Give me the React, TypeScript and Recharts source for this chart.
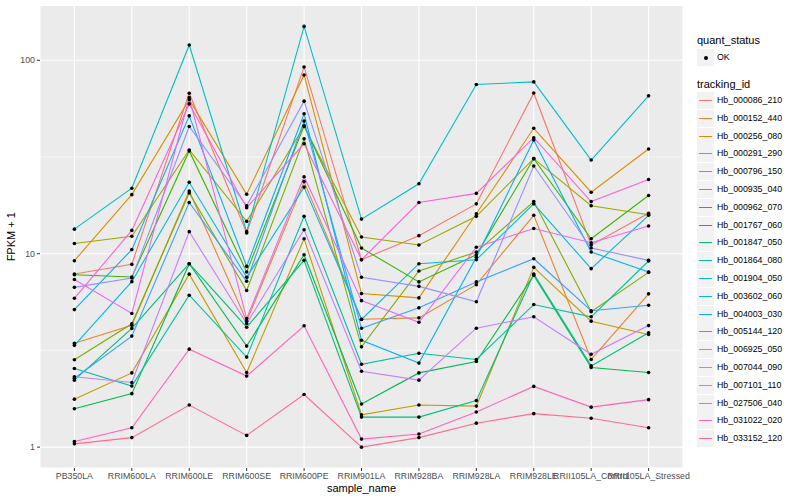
import { LineChart, Line, XAxis, YAxis, CartesianGrid } from "recharts";

const samples = [
  "PB350LA",
  "RRIM600LA",
  "RRIM600LE",
  "RRIM600SE",
  "RRIM600PE",
  "RRIM901LA",
  "RRIM928BA",
  "RRIM928LA",
  "RRIM928LE",
  "RRII105LA_Control",
  "RRII105LA_Stressed",
];

const trackingIds = [
  "Hb_000086_210",
  "Hb_000152_440",
  "Hb_000256_080",
  "Hb_000291_290",
  "Hb_000796_150",
  "Hb_000935_040",
  "Hb_000962_070",
  "Hb_001767_060",
  "Hb_001847_050",
  "Hb_001864_080",
  "Hb_001904_050",
  "Hb_003602_060",
  "Hb_004003_030",
  "Hb_005144_120",
  "Hb_006925_050",
  "Hb_007044_090",
  "Hb_007101_110",
  "Hb_027506_040",
  "Hb_031022_020",
  "Hb_033152_120",
];

// FPKM + 1, one value per sample
const hb000086_210 = [7.86, 8.81, 67.6, 12.8, 92.4, 9.31, 12.4, 18.1, 67.8, 11.1, 16.2];
const hb000152_440 = [3.44, 4.27, 21.1, 4.48, 23.6, 4.58, 4.66, 6.92, 15.8, 2.84, 6.2];
const hb000256_080 = [9.2, 20.2, 62.6, 20.3, 84.0, 6.22, 5.91, 16.1, 44.5, 20.8, 34.8];
const hb000291_290 = [1.77, 2.42, 7.84, 2.43, 11.95, 1.47, 1.65, 1.63, 8.5, 4.48, 3.82];
const hb000796_150 = [11.3, 12.3, 34.4, 14.7, 45.5, 12.2, 11.1, 15.6, 31.0, 17.7, 15.9];
const hb000935_040 = [2.83, 4.34, 20.6, 6.45, 39.3, 3.3, 8.14, 10.2, 18.6, 5.01, 8.01];
const hb000962_070 = [7.79, 7.58, 34.0, 8.05, 45.9, 10.7, 7.15, 9.88, 31.0, 11.95, 20.0];
const hb001767_060 = [1.58, 1.89, 8.88, 3.33, 9.88, 1.67, 2.42, 2.77, 7.73, 2.58, 2.43];
const hb001847_050 = [2.22, 4.11, 8.88, 4.17, 9.24, 1.43, 1.43, 1.74, 7.86, 2.63, 3.9];
const hb001864_080 = [2.55, 2.07, 6.1, 2.92, 15.6, 2.68, 3.06, 2.84, 5.46, 4.72, 9.17];
const hb001904_050 = [13.4, 21.8, 120, 13.0, 149.7, 15.1, 23.0, 75.0, 77.3, 30.5, 65.5];
const hb003602_060 = [3.36, 7.17, 23.4, 7.55, 22.1, 4.57, 8.88, 9.31, 18.1, 8.37, 15.8];
const hb004003_030 = [5.14, 10.5, 51.6, 8.6, 52.9, 3.57, 2.72, 9.59, 38.7, 10.2, 8.05];
const hb005144_120 = [2.27, 3.75, 18.4, 7.2, 48.5, 4.12, 5.25, 7.15, 9.42, 5.07, 5.41];
const hb006925_050 = [6.7, 7.49, 45.5, 17.7, 61.5, 7.55, 6.78, 5.64, 28.4, 10.7, 9.24];
const hb007044_090 = [2.31, 2.16, 13.0, 4.36, 13.3, 2.47, 2.22, 4.12, 4.72, 3.02, 4.25];
const hb007101_110 = [7.35, 4.91, 64.2, 4.62, 25.0, 5.72, 4.42, 10.8, 13.5, 11.4, 13.9];
const hb027506_040 = [5.88, 13.2, 59.5, 17.3, 37.0, 9.31, 18.4, 20.5, 39.8, 18.6, 24.2];
const hb031022_020 = [1.07, 1.26, 3.21, 2.33, 4.24, 1.1, 1.17, 1.52, 2.06, 1.61, 1.76];
const hb033152_120 = [1.04, 1.12, 1.65, 1.15, 1.87, 1.0, 1.12, 1.33, 1.49, 1.41, 1.26];

const seriesValues = [
  hb000086_210, hb000152_440, hb000256_080, hb000291_290, hb000796_150,
  hb000935_040, hb000962_070, hb001767_060, hb001847_050, hb001864_080,
  hb001904_050, hb003602_060, hb004003_030, hb005144_120, hb006925_050,
  hb007044_090, hb007101_110, hb027506_040, hb031022_020, hb033152_120,
];

const colors = [
  "#F8766D", "#EA8331", "#D89000", "#C09B00", "#A3A500",
  "#7CAE00", "#39B600", "#00BB4E", "#00BF7D", "#00C1A3",
  "#00BFC4", "#00BAE0", "#00B0F6", "#35A2FF", "#9590FF",
  "#C77CFF", "#E76BF3", "#FA62DB", "#FF62BC", "#FF6C91",
];

const yTicks = [1, 10, 100];
const yMinor = [3.1623, 31.623];

const rows = samples.map((sample, i) => {
  const row: Record<string, string | number> = { sample };
  trackingIds.forEach((id, k) => {
    row[id] = seriesValues[k][i];
  });
  return row;
});

const tickStyle = { fontSize: 8.8, fill: "#4D4D4D" };

function GgLegend() {
  const left = 697;
  return (
    <>
      <div style={{ position: "absolute", left, top: 34, fontSize: 11, lineHeight: "13px" }}>
        quant_status
      </div>
      <div style={{ position: "absolute", left, top: 49, width: 17, height: 17, background: "#F2F2F2" }}>
        <div
          style={{
            position: "absolute",
            left: 6.5,
            top: 6.5,
            width: 4,
            height: 4,
            borderRadius: 2,
            background: "#000",
          }}
        />
      </div>
      <div style={{ position: "absolute", left: 717, top: 52, fontSize: 8.8, lineHeight: "11px" }}>OK</div>
      <div style={{ position: "absolute", left, top: 77.5, fontSize: 11, lineHeight: "13px" }}>
        tracking_id
      </div>
      {trackingIds.map((id, k) => {
        const top = Math.round(92 + k * 17.8);
        return (
          <div key={id}>
            <div style={{ position: "absolute", left, top, width: 17, height: 17, background: "#F2F2F2" }}>
              <div
                style={{
                  position: "absolute",
                  left: 2,
                  top: 8,
                  width: 13,
                  height: 1,
                  background: colors[k],
                }}
              />
            </div>
            <div style={{ position: "absolute", left: 717, top: top + 3, fontSize: 8.8, lineHeight: "11px" }}>
              {id}
            </div>
          </div>
        );
      })}
    </>
  );
}

export default function App() {
  return (
    <div
      style={{
        position: "absolute",
        left: 0,
        top: 0,
        width: 800,
        height: 500,
        background: "#FFFFFF",
        fontFamily: '"Liberation Sans", Arial, Helvetica, sans-serif',
      }}
    >
      <LineChart width={800} height={500} data={rows} margin={{ top: 5.5, right: 117, bottom: 0, left: 0 }}>
        <CartesianGrid fill="#EBEBEB" stroke="#FFFFFF" strokeWidth={1.1} />
        <CartesianGrid stroke="#FFFFFF" strokeWidth={0.55} vertical={false} horizontalValues={yMinor} />
        <XAxis
          dataKey="sample"
          interval={0}
          padding={{ left: 34.4, right: 34.4 }}
          height={32}
          axisLine={false}
          tickLine={{ stroke: "#333333" }}
          tickSize={3}
          tickMargin={2}
          tick={tickStyle}
          label={{ value: "sample_name", position: "insideBottom", offset: 8, fontSize: 11, fill: "#000000" }}
        />
        <YAxis
          type="number"
          scale="log"
          domain={[0.78, 192]}
          allowDataOverflow
          ticks={yTicks}
          width={40}
          axisLine={false}
          tickLine={{ stroke: "#333333" }}
          tickSize={3}
          tickMargin={2}
          tick={tickStyle}
          label={{
            value: "FPKM + 1",
            angle: -90,
            position: "insideLeft",
            offset: 11,
            fontSize: 11,
            fill: "#000000",
            style: { textAnchor: "middle" },
          }}
        />
        {trackingIds.map((id, k) => (
          <Line
            key={id}
            dataKey={id}
            stroke={colors[k]}
            strokeWidth={1.1}
            dot={false}
            activeDot={false}
            isAnimationActive={false}
          />
        ))}
        {trackingIds.map((id) => (
          <Line
            key={id + "-pt"}
            dataKey={id}
            stroke="none"
            dot={{ r: 1.8, fill: "#000000", stroke: "none" }}
            activeDot={false}
            legendType="none"
            isAnimationActive={false}
          />
        ))}
      </LineChart>
      <GgLegend />
    </div>
  );
}
